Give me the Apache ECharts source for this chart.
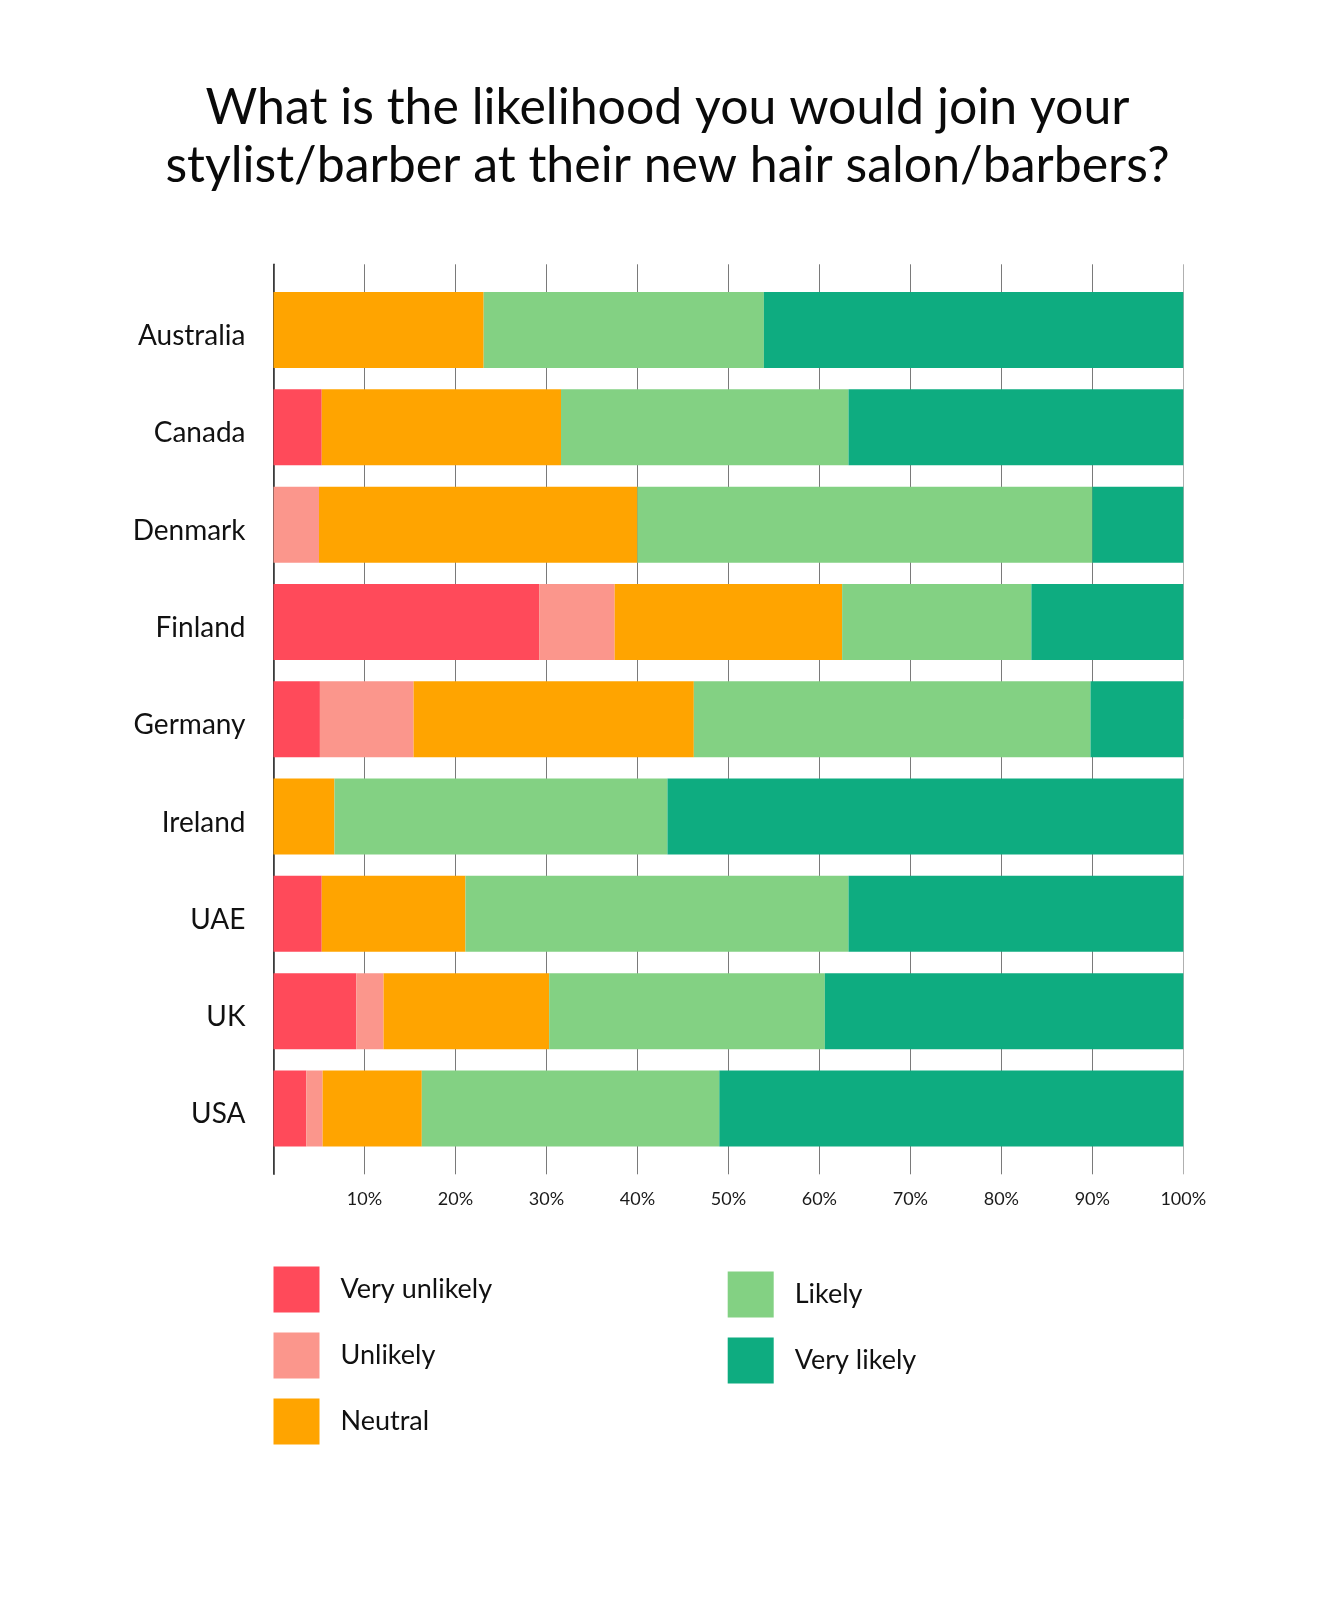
<!DOCTYPE html>
<html>
<head>
<meta charset="utf-8">
<script src="https://cdn.jsdelivr.net/npm/echarts@6/dist/echarts.min.js"></script>
<style>
html,body{margin:0;padding:0;background:#fff;}
#chart{width:1335px;height:1600px;}
</style>
</head>
<body>
<div id="chart"></div>
<script>
const titleText = "What is the likelihood you would join your\nstylist/barber at their new hair salon/barbers?";
const countries = ["Australia","Canada","Denmark","Finland","Germany","Ireland","UAE","UK","USA"];
const seriesNames = ["Very unlikely","Unlikely","Neutral","Likely","Very likely"];
const veryUnlikely = [0, 5.3, 0, 29.2, 5.1, 0, 5.3, 9.1, 3.6];
const unlikely     = [0, 0, 5.0, 8.3, 10.3, 0, 0, 3.0, 1.8];
const neutral      = [23.1, 26.3, 35.0, 25.0, 30.8, 6.7, 15.8, 18.2, 10.9];
const likely       = [30.8, 31.6, 50.0, 20.8, 43.6, 36.6, 42.1, 30.3, 32.7];
const veryLikely   = [46.1, 36.8, 10.0, 16.7, 10.2, 56.7, 36.8, 39.4, 51.0];
const xTicks = [0,10,20,30,40,50,60,70,80,90,100];

const colors = ["#ff4a5a","#fb968c","#ffa400","#83d183","#0eac80"];
const values = [veryUnlikely, unlikely, neutral, likely, veryLikely];
const FONT = "Lato";

const chart = echarts.init(document.getElementById('chart'), null, {renderer:'canvas'});
const option = {
  backgroundColor:'#ffffff',
  animation:false,
  textStyle:{fontFamily:FONT},
  title:{
    text:titleText,
    left:'center',
    top:79,
    padding:0,
    textStyle:{fontFamily:FONT,fontSize:50,fontWeight:'normal',color:'#0a0a0a',lineHeight:58}
  },
  legend:[
    {
      data:seriesNames.slice(0,3),
      orient:'vertical',
      left:273.5, top:1266.5, padding:0,
      itemWidth:46, itemHeight:46, itemGap:20,
      icon:'rect',
      textStyle:{fontFamily:FONT,fontSize:27,color:'#111',padding:[0,0,0,16]}
    },
    {
      data:seriesNames.slice(3),
      orient:'vertical',
      left:727.7, top:1271.6, padding:0,
      itemWidth:46, itemHeight:46, itemGap:20,
      icon:'rect',
      textStyle:{fontFamily:FONT,fontSize:27,color:'#111',padding:[0,0,0,16]}
    }
  ],
  grid:[
    {left:273.5, right:151.7, top:264.3, height:910, containLabel:false},
    {left:273.5, right:151.7, top:281.4, height:875.7, containLabel:false}
  ],
  xAxis:[
    {
      gridIndex:0, type:'value', min:xTicks[0], max:xTicks[xTicks.length-1], interval:10,
      axisLine:{show:false}, axisTick:{show:false},
      splitLine:{show:true, lineStyle:{width:1, color:['#444','#7a7a7a','#7a7a7a','#7a7a7a','#7a7a7a','#7a7a7a','#7a7a7a','#7a7a7a','#7a7a7a','#7a7a7a','#b0b0b0']}},
      axisLabel:{margin:16, fontFamily:FONT, fontSize:18, color:'#1a1a1a',
        formatter:function(v){return v===0?'':v+'%';}}
    },
    {
      gridIndex:1, type:'value', min:0, max:100, show:false
    }
  ],
  yAxis:[
    {
      gridIndex:0, type:'value', min:0, max:1,
      axisLine:{show:true, lineStyle:{color:'#3a3a3a', width:1.6}},
      axisTick:{show:false}, axisLabel:{show:false}, splitLine:{show:false}
    },
    {
      gridIndex:1, type:'category', inverse:true, data:countries,
      axisLine:{show:false}, axisTick:{show:false}, splitLine:{show:false},
      axisLabel:{margin:28, fontFamily:FONT, fontSize:28, color:'#111', verticalAlign:'top', lineHeight:12}
    }
  ],
  series: seriesNames.map(function(name,i){
    return {
      name:name, type:'bar', stack:'total',
      xAxisIndex:1, yAxisIndex:1,
      barWidth:76,
      itemStyle:{color:colors[i]},
      emphasis:{disabled:true},
      data:values[i]
    };
  })
};
chart.setOption(option);
</script>
</body>
</html>
